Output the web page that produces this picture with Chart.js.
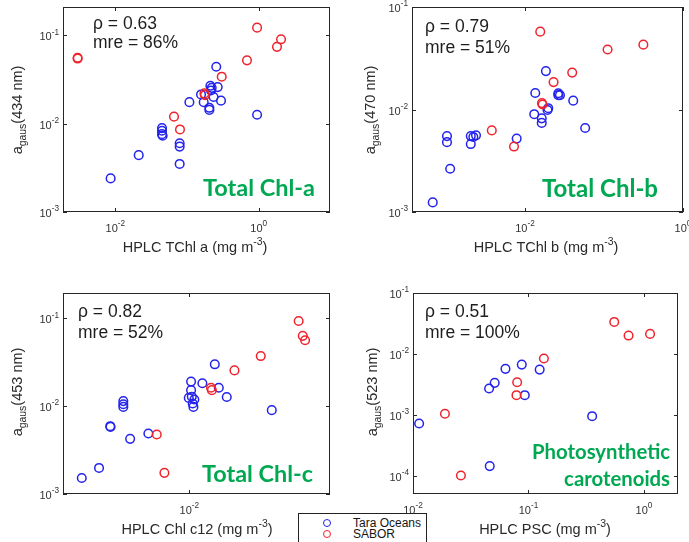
<!DOCTYPE html>
<html><head><meta charset="utf-8">
<script src="https://cdn.jsdelivr.net/npm/chart.js@4"></script>
<style>
body{margin:0;background:#fff;width:689px;height:542px;overflow:hidden;position:relative;font-family:'Liberation Sans',Arial,sans-serif}
canvas{position:absolute;left:0;top:0}
#legend{position:absolute;left:298px;top:513px;width:127px;height:40px;border:1px solid #222;background:#fff;z-index:10}
.lrow{position:absolute;left:0;height:11px;font-size:12px;line-height:11px;color:#151515}
.lmk{position:absolute;left:24px;top:1px;width:6px;height:6px;border-radius:50%;border:1.5px solid}
.ltx{position:absolute;left:54px;top:0;white-space:nowrap}
</style></head><body>
<canvas id="c1" width="689" height="542"></canvas>
<canvas id="c2" width="689" height="542"></canvas>
<canvas id="c3" width="689" height="542"></canvas>
<canvas id="c4" width="689" height="542"></canvas>
<div id="legend">
  <div class="lrow" style="top:4px"><span class="lmk" style="border-color:rgb(35,35,235)"></span><span class="ltx">Tara Oceans</span></div>
  <div class="lrow" style="top:14.5px"><span class="lmk" style="border-color:rgb(240,35,45)"></span><span class="ltx">SABOR</span></div>
</div>
<script>
// ---------- DATA ----------
const seriesNames = ['Tara Oceans', 'SABOR'];
// Panel 1: Total Chl-a, a_gaus(434 nm)
const chlaTara = [[0.0086,0.0024],[0.0212,0.0044],[0.0448,0.0089],[0.0448,0.0083],[0.0448,0.0076],[0.0457,0.0073],[0.079,0.0060],[0.079,0.0055],[0.079,0.0035],[0.256,0.044],[0.212,0.0268],[0.221,0.0254],[0.268,0.0259],[0.216,0.0237],[0.157,0.0214],[0.108,0.0175],[0.171,0.0175],[0.235,0.020],[0.298,0.0182],[0.205,0.0151],[0.205,0.0143],[0.95,0.0126]];
const chlaSabor = [[0.00298,0.0557],[0.00298,0.0545],[0.95,0.122],[2.05,0.090],[1.80,0.074],[0.687,0.052],[0.305,0.034],[0.175,0.022],[0.178,0.021],[0.0659,0.012],[0.0798,0.0086]];
// Panel 2: Total Chl-b, a_gaus(470 nm)
const chlbTara = [[0.00068,0.00124],[0.00113,0.00264],[0.00103,0.0055],[0.00103,0.0048],[0.00206,0.0055],[0.00206,0.0046],[0.00222,0.0054],[0.0024,0.0056],[0.00785,0.0052],[0.0184,0.0237],[0.0135,0.0145],[0.0131,0.009],[0.0163,0.0082],[0.0163,0.0074],[0.0197,0.0103],[0.0193,0.0099],[0.0264,0.0144],[0.0277,0.0138],[0.0264,0.0138],[0.0408,0.0122],[0.0578,0.0066]];
const chlbSabor = [[0.0156,0.0575],[0.111,0.0385],[0.315,0.0429],[0.0396,0.0229],[0.023,0.0185],[0.0164,0.01155],[0.0167,0.0112],[0.0038,0.00625],[0.00726,0.00435]];
// Panel 3: Total Chl-c, a_gaus(453 nm)
const chlcTara = [[0.000618,0.00152],[0.000966,0.00198],[0.00129,0.00591],[0.0013,0.0058],[0.00181,0.0114],[0.00181,0.0105],[0.00181,0.0098],[0.00216,0.00424],[0.00346,0.00488],[0.01045,0.019],[0.01045,0.0152],[0.00984,0.0124],[0.01064,0.0128],[0.01137,0.0119],[0.0109,0.0107],[0.0111,0.0098],[0.014,0.0182],[0.0193,0.0299],[0.0214,0.0162],[0.0263,0.0127],[0.0843,0.009]];
const chlcSabor = [[0.169,0.093],[0.188,0.063],[0.1995,0.0561],[0.0634,0.0371],[0.0321,0.0255],[0.0175,0.0162],[0.0179,0.0152],[0.0043,0.00475],[0.00524,0.00174]];
// Panel 4: Photosynthetic carotenoids, a_gaus(523 nm)
const pscTara = [[0.0113,0.00072],[0.0462,0.000144],[0.0456,0.0027],[0.051,0.00335],[0.0632,0.00568],[0.0875,0.00668],[0.0929,0.0021],[0.125,0.00553],[0.356,0.00095]];
const pscSabor = [[0.553,0.0335],[0.736,0.020],[1.13,0.0213],[0.136,0.0084],[0.0798,0.00343],[0.0787,0.0021],[0.0189,0.00104],[0.026,0.000101]];
// statistics text
const rhoValues = ['0.63','0.79','0.82','0.51'];
const mreValues = ['86%','51%','52%','100%'];
// tick labels (exponents of 10)
const xTickExp = [[-2,0],[-2,0],[-2],[-2,-1,0]];
const yTickExp = [[-3,-2,-1],[-3,-2,-1],[-3,-2,-1],[-4,-3,-2,-1]];
const xTitles = ['HPLC TChl a (mg m','HPLC TChl b (mg m','HPLC Chl c12 (mg m','HPLC PSC (mg m'];
const yWaves = ['434','470','453','523'];
const panelLabels = [['Total Chl-a'],['Total Chl-b'],['Total Chl-c'],['Photosynthetic','carotenoids']];

// ---------- STYLE / LAYOUT ----------
const W = 689, H = 542;
const BLUE = 'rgb(35,35,235)', RED = 'rgb(240,35,45)', GREEN = 'rgb(0,168,82)';
const FONT = "'Liberation Sans', Arial, sans-serif";
const panels = [
  {id:'c1', tara:chlaTara, sabor:chlaSabor, box:[63,7,330,212], xr:[-2.73,0.995], yr:[-3,-0.68],
   stat:[93,24,43], lab:{right:315, base:[196], w:112}, xt:[195,248], yt:[15,110]},
  {id:'c2', tara:chlbTara, sabor:chlbSabor, box:[412,7,683,212], xr:[-3.43,0], yr:[-3,-1],
   stat:[425,27,48], lab:{right:658, base:[197], w:116}, xt:[546,248], yt:[368,110]},
  {id:'c3', tara:chlcTara, sabor:chlcSabor, box:[63,293,330,494], xr:[-3.42,-0.42], yr:[-3,-0.713],
   stat:[78,312,333], lab:{right:313, base:[482], w:111}, xt:[197,530], yt:[15,392]},
  {id:'c4', tara:pscTara, sabor:pscSabor, box:[413,293,678,494], xr:[-2,0.295], yr:[-4.3,-1],
   stat:[425,312,333], lab:{right:670, base:[459,486], w:138}, xt:[545,530], yt:[370,392]}
];

function richText(ctx, segs, cx, cy, size, rotate, color) {
  // segs: [text, mode] mode 0 normal, 1 super, -1 sub
  const widths = segs.map(s => { ctx.font = (s[1] ? size*0.72 : size) + 'px ' + FONT; return ctx.measureText(s[0]).width; });
  const total = widths.reduce((a,b)=>a+b,0);
  ctx.save();
  ctx.translate(cx, cy);
  if (rotate) ctx.rotate(-Math.PI/2);
  ctx.fillStyle = color; ctx.textBaseline = 'middle'; ctx.textAlign = 'left';
  let x = -total/2;
  segs.forEach((s,i) => {
    ctx.font = (s[1] ? size*0.72 : size) + 'px ' + FONT;
    const dy = s[1] === 1 ? -size*0.42 : (s[1] === -1 ? size*0.38 : 0);
    ctx.fillText(s[0], x, dy);
    x += widths[i];
  });
  ctx.restore();
}
function tickLabel(ctx, exp, x, y, align) {
  const size = 11;
  ctx.font = size + 'px ' + FONT; const wb = ctx.measureText('10').width;
  ctx.font = (size*0.75) + 'px ' + FONT; const we = ctx.measureText(String(exp)).width;
  const total = wb + we;
  let x0 = align === 'right' ? x - total : x - total/2;
  ctx.fillStyle = '#333'; ctx.textBaseline = 'middle'; ctx.textAlign = 'left';
  ctx.font = size + 'px ' + FONT; ctx.fillText('10', x0, y);
  ctx.font = (size*0.75) + 'px ' + FONT; ctx.fillText(String(exp), x0 + wb, y - 5);
}

const decor = {
  id: 'decor',
  afterDraw(chart, args, opts) {
    const p = opts.panel, idx = opts.index;
    const ctx = chart.ctx, a = chart.chartArea, xs = chart.scales.x, ys = chart.scales.y;
    ctx.save();
    // box
    ctx.strokeStyle = '#262626'; ctx.lineWidth = 1;
    ctx.strokeRect(Math.round(a.left)+0.5, Math.round(a.top)+0.5, Math.round(a.right-a.left)-1, Math.round(a.bottom-a.top)-1);
    // ticks
    const tl = 4;
    ctx.beginPath();
    xTickExp[idx].forEach(e => {
      const px = Math.round(xs.getPixelForValue(Math.pow(10,e))) + 0.5;
      ctx.moveTo(px, a.bottom); ctx.lineTo(px, a.bottom - tl);
      ctx.moveTo(px, a.top); ctx.lineTo(px, a.top + tl);
    });
    yTickExp[idx].forEach(e => {
      const py = Math.round(ys.getPixelForValue(Math.pow(10,e))) + 0.5;
      ctx.moveTo(a.left, py); ctx.lineTo(a.left + tl, py);
      ctx.moveTo(a.right, py); ctx.lineTo(a.right - tl, py);
    });
    ctx.stroke();
    // tick labels
    xTickExp[idx].forEach(e => tickLabel(ctx, e, xs.getPixelForValue(Math.pow(10,e)), a.bottom + 17, 'center'));
    yTickExp[idx].forEach(e => tickLabel(ctx, e, a.left - 4, ys.getPixelForValue(Math.pow(10,e)) + 2, 'right'));
    // axis titles
    richText(ctx, [[xTitles[idx],0],['-3',1],[')',0]], p.xt[0], p.xt[1], 14.5, false, '#2a2a2a');
    richText(ctx, [['a',0],['gaus',-1],['(' + yWaves[idx] + ' nm)',0]], p.yt[0] + 3, p.yt[1], 14.5, true, '#2a2a2a');
    // stats
    ctx.fillStyle = '#1e1e1e'; ctx.textAlign = 'left'; ctx.textBaseline = 'middle';
    ctx.font = '17.5px ' + FONT;
    ctx.fillText('\u03C1 = ' + rhoValues[idx], p.stat[0], p.stat[1]);
    ctx.fillText('mre = ' + mreValues[idx], p.stat[0], p.stat[2]);
    // green panel label (size fitted from first line)
    ctx.fillStyle = GREEN; ctx.textAlign = 'right'; ctx.textBaseline = 'alphabetic';
    ctx.font = 'bold 20px Lato, sans-serif';
    const m = ctx.measureText(panelLabels[idx][0]).width;
    const s = 20 * p.lab.w / m;
    ctx.font = 'bold ' + s.toFixed(2) + 'px Lato, sans-serif';
    panelLabels[idx].forEach((t, k) => ctx.fillText(t, p.lab.right, p.lab.base[k]));
    ctx.restore();
  }
};

panels.forEach((p, idx) => {
  const mk = (arr) => arr.map(v => ({x: v[0], y: v[1]}));
  new Chart(document.getElementById(p.id), {
    type: 'scatter',
    data: { datasets: [
      { label: seriesNames[1], data: mk(p.sabor), borderColor: RED, backgroundColor: 'rgba(0,0,0,0)',
        pointRadius: 4.3, pointHoverRadius: 4.3, pointBorderWidth: 1.5, borderWidth: 1.5, clip: false, order: 0 },
      { label: seriesNames[0], data: mk(p.tara), borderColor: BLUE, backgroundColor: 'rgba(0,0,0,0)',
        pointRadius: 4.3, pointHoverRadius: 4.3, pointBorderWidth: 1.5, borderWidth: 1.5, clip: false, order: 1 }
    ]},
    options: {
      responsive: false, animation: false, devicePixelRatio: 1, events: [],
      layout: { padding: { left: p.box[0], top: p.box[1], right: W - p.box[2], bottom: H - p.box[3] } },
      plugins: { legend: { display: false }, tooltip: { enabled: false }, decor: { panel: p, index: idx } },
      scales: {
        x: { type: 'logarithmic', display: false, min: Math.pow(10, p.xr[0]), max: Math.pow(10, p.xr[1]) },
        y: { type: 'logarithmic', display: false, min: Math.pow(10, p.yr[0]), max: Math.pow(10, p.yr[1]) }
      }
    },
    plugins: [decor]
  });
});
</script>
</body></html>
